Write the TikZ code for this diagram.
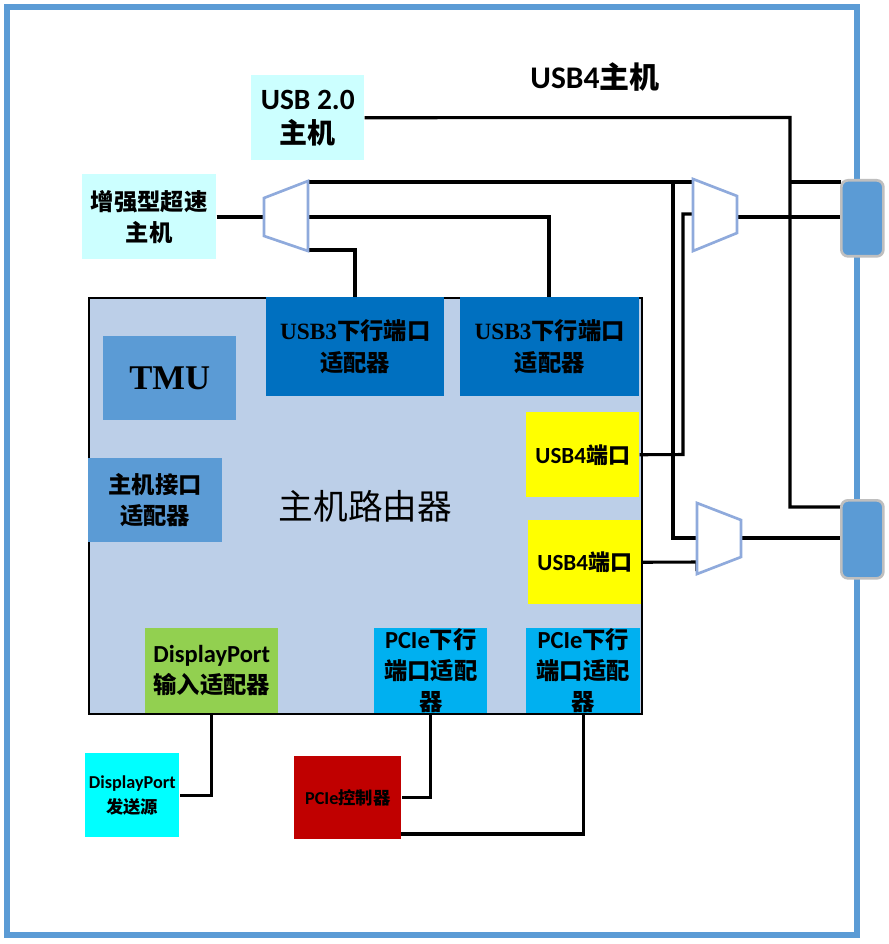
\documentclass[tikz,border=0pt]{standalone}
\usepackage{fontspec}
\setmainfont{Carlito}[Scale=1.05]
\newfontfamily\cjk{Noto Sans CJK SC}
\newfontfamily\tnr{Liberation Serif}
\definecolor{bordc}{HTML}{5B9BD5}
\definecolor{hostc}{HTML}{CCFFFF}
\definecolor{routc}{HTML}{BCCFE8}
\definecolor{usb3c}{HTML}{0070C0}
\definecolor{tmuc}{HTML}{5B9BD5}
\definecolor{usb4c}{HTML}{FFFF00}
\definecolor{dpinc}{HTML}{92D050}
\definecolor{pciec}{HTML}{00B0F0}
\definecolor{dpsrc}{HTML}{00FFFF}
\definecolor{pctlc}{HTML}{C00000}
\definecolor{muxc}{HTML}{8FAADC}
\definecolor{connb}{HTML}{BFBFBF}
\tikzset{
  box/.style={inner sep=0pt, align=center},
  rect/.style args={#1/#2/#3/#4}{minimum width={(#3-#1)*0.75pt}, minimum height={(#4-#2)*0.75pt}, anchor=north west, at={(#1,#2)}},
  wire/.style={line width=2.3pt, black, line join=miter},
  mux/.style={draw=muxc, line width=2pt, fill=white},
  port/.style={draw=connb, fill=bordc, rounded corners=5pt, line width=2pt, inner sep=0pt},
  fbig/.style={font=\fontsize{21pt}{25.5pt}\selectfont\bfseries},
  fmid/.style={font=\fontsize{17.5pt}{23.5pt}\selectfont\bfseries},
  fsmall/.style={font=\fontsize{13pt}{19pt}\selectfont\bfseries},
}
\begin{document}
\begin{tikzpicture}[x=0.75pt,y=-0.75pt]
\useasboundingbox (0,0) rectangle (888,944);
\fill[white] (0,0) rectangle (888,944);
% outer frame
\draw[line width=5.2pt, bordc] (7,7) rectangle (857,935);
\node[box, font=\fontsize{22.5pt}{26pt}\selectfont\bfseries] (title) at (595,77) {USB4{\cjk 主机}};

% hosts
\node[box, rect=251/75/364/160, fill=hostc, fbig] (usb2) {USB 2.0\\{\cjk 主机}};
\node[box, rect=82/174/216/259, fill=hostc, fmid] (enh) {{\cjk 增强型超速}\\{\cjk 主机}};

% router
\node[box, rect=88/297/641/713, fill=routc, draw=black, line width=1.5pt,
      font=\fontsize{26pt}{30pt}\selectfont\cjk] (router) {主机路由器};
\node[box, rect=266/297/444/396, fill=usb3c, fmid] (usb3a) {{\tnr USB3}{\cjk 下行端口}\\{\cjk 适配器}};
\node[box, rect=460/297/639/396, fill=usb3c, fmid] (usb3b) {{\tnr USB3}{\cjk 下行端口}\\{\cjk 适配器}};
\node[box, rect=103/336/236/420, fill=tmuc, font=\fontsize{26pt}{30pt}\selectfont\tnr\bfseries] (tmu) {TMU};
\node[box, rect=88/458/222/542, fill=tmuc, fmid] (hia) {{\cjk 主机接口}\\{\cjk 适配器}};
\node[box, rect=526/412/639/497, fill=usb4c, font=\fontsize{16.5pt}{20pt}\selectfont\bfseries] (usb4a) {USB4{\cjk 端口}};
\node[box, rect=528/520/641/604, fill=usb4c, font=\fontsize{16.5pt}{20pt}\selectfont\bfseries] (usb4b) {USB4{\cjk 端口}};
\node[box, rect=145/628/278/713, fill=dpinc, fmid] (dpin) {DisplayPort\\{\cjk 输入适配器}};
\node[box, rect=374/628/487/713, fill=pciec, fmid] (pcie1) {PCIe{\cjk 下行}\\{\cjk 端口适配}\\{\cjk 器}};
\node[box, rect=526/628/640/713, fill=pciec, fmid] (pcie2) {PCIe{\cjk 下行}\\{\cjk 端口适配}\\{\cjk 器}};

% external sources
\node[box, rect=85/753/179/837, fill=dpsrc, fsmall] (dpsrc) {DisplayPort\\{\cjk 发送源}};
\node[box, rect=294/756/401/839, fill=pctlc, fsmall] (pctl) {PCIe{\cjk 控制器}};

% mux coordinates
\coordinate (m1i) at (264,217);
\coordinate (m1o1) at (308,182);
\coordinate (m1o2) at (308,217);
\coordinate (m1o3) at (308,250);
\coordinate (m2i1) at (693,182);
\coordinate (m2i2) at (693,214);
\coordinate (m2o) at (737,217);
\coordinate (m3i1) at (697,538);
\coordinate (m3i2) at (697,562);
\coordinate (m3o) at (741,538);
% junctions
\coordinate (ja) at (790,117.5);
\coordinate (jb) at (790,182);
\coordinate (jc) at (790,507);
\coordinate (jd) at (673,182);
\coordinate (je) at (673,538);
\coordinate (jf) at (683,454.5);
\coordinate (jg) at (683,214);
\coordinate (jh) at (549,217);
\coordinate (ji) at (355,250);
\coordinate (jj) at (697,571);
\coordinate (jk) at (401,834);
\coordinate (c1a) at (841,182);
\coordinate (c1b) at (841,217);
\coordinate (c2a) at (841,507);
\coordinate (c2b) at (841,538);

% wires
\draw[wire] (enh.east |- m1i) -- (m1i);
\draw[wire] (usb2.east) -- (ja) -- (jc) -- (c2a);
\draw[wire] (jb) -- (c1a);
\draw[wire] (m1o1) -- (m2i1);
\draw[wire] (jd) -- (je) -- (m3i1);
\draw[wire] (m1o2) -- (jh) -- (usb3b.north -| jh);
\draw[wire] (m1o3) -- (ji) -- (usb3a.north -| ji);
\draw[wire] (usb4a.east) -- (jf) -- (jg) -- (m2i2);
\draw[wire] (m2o) -- (c1b);
\draw[wire] (usb4b.east) -- (m3i2) -- (jj);
\draw[wire] (m3o) -- (c2b);
\draw[wire] (dpin.south) |- (dpsrc.east);
\draw[wire] (pcie1.south) |- (pctl.east);
\draw[wire] (pcie2.south) |- (jk);

% muxes
\draw[mux] (264,198) -- (308,181) -- (308,251) -- (264,236) -- cycle;
\draw[mux] (693,179) -- (737,196) -- (737,233) -- (693,251) -- cycle;
\draw[mux] (697,503) -- (741,520) -- (741,557) -- (697,574) -- cycle;

% USB4 connectors
\node[port, rect=840/179/882/255] (conn1) {};
\node[port, rect=840/499/882/577] (conn2) {};
\end{tikzpicture}
\end{document}
